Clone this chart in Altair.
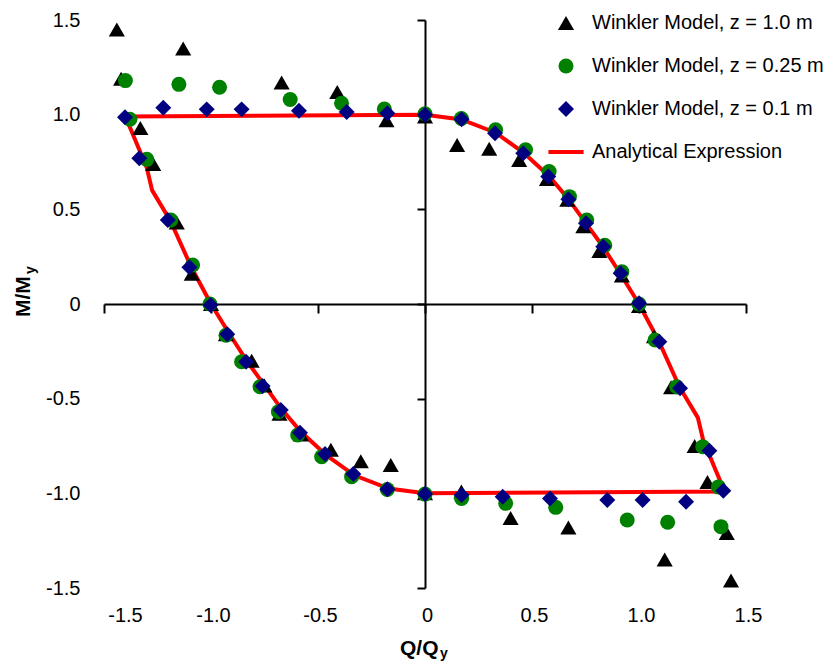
import altair as alt
import pandas as pd

FONT = "Liberation Sans"

series_names = [
    "Winkler Model, z = 1.0 m",
    "Winkler Model, z = 0.25 m",
    "Winkler Model, z = 0.1 m",
    "Analytical Expression",
]
series_colors = ["#000000", "#008000", "#000080", "#FF0000"]
series_shapes = ["triangle-up", "circle", "diamond",
                 "M-2.2,-0.25L2.2,-0.25L2.2,0.25L-2.2,0.25Z"]
series_sizes = [260, 225, 255, 256]

# Winkler model, z = 1.0 m (triangles)
q_z10 = [-1.44, -1.42, -1.33, -1.27, -1.16, -1.09, -1.00, -0.93, -0.81, -0.75,
         -0.68, -0.58, -0.44, -0.30, -0.16, 0.00, 0.17, 0.40, 0.67, 1.12,
         1.43, 1.41, 1.32, 1.26, 1.15, 1.07, 1.00, 0.92, 0.815, 0.74,
         0.665, 0.57, 0.44, 0.30, 0.15, 0.00, -0.18, -0.41, -0.67, -1.13]
m_z10 = [1.45, 1.19, 0.93, 0.74, 0.43, 0.16, 0.00, -0.16, -0.30, -0.43,
         -0.58, -0.69, -0.77, -0.83, -0.85, -1.00, -0.99, -1.13, -1.18, -1.35,
         -1.46, -1.21, -0.94, -0.75, -0.44, -0.17, -0.01, 0.15, 0.28, 0.41,
         0.55, 0.66, 0.76, 0.82, 0.84, 0.99, 0.97, 1.12, 1.17, 1.35]

# Winkler model, z = 0.25 m (circles)
q_z025 = [-1.40, -1.15, -0.96, -0.63, -0.39, -0.19, 0.00, 0.17, 0.33, 0.47,
          0.58, 0.675, 0.756, 0.84, 0.92, 1.00, 1.075, 1.176, 1.298, 1.371,
          1.383, 1.134, 0.945, 0.611, 0.377, 0.171, 0.00, -0.176, -0.343, -0.483,
          -0.595, -0.685, -0.771, -0.857, -0.93, -1.005, -1.086, -1.188, -1.30, -1.379]
m_z025 = [1.18, 1.16, 1.145, 1.08, 1.06, 1.03, 1.005, 0.98, 0.92, 0.815,
          0.70, 0.567, 0.444, 0.31, 0.17, 0.00, -0.19, -0.437, -0.754, -0.966,
          -1.176, -1.153, -1.141, -1.074, -1.053, -1.027, -1.004, -0.98, -0.912, -0.807,
          -0.692, -0.569, -0.437, -0.305, -0.165, 0.00, 0.206, 0.444, 0.764, 0.976]

# Winkler model, z = 0.1 m (diamonds)
q_z01 = [-1.402, -1.223, -1.02, -0.857, -0.589, -0.366, -0.176, 0.00, 0.171, 0.327,
         0.459, 0.576, 0.67, 0.752, 0.833, 0.914, 1.00, 1.095, 1.192, 1.329,
         1.394, 1.22, 1.017, 0.852, 0.584, 0.363, 0.171, 0.00, -0.176, -0.335,
         -0.467, -0.584, -0.674, -0.759, -0.836, -0.924, -1.002, -1.101, -1.202, -1.335]
m_z01 = [0.986, 1.037, 1.028, 1.028, 1.021, 1.014, 1.007, 1.00, 0.976, 0.902,
         0.796, 0.673, 0.553, 0.426, 0.303, 0.162, 0.004, -0.199, -0.445, -0.775,
         -0.986, -1.044, -1.035, -1.035, -1.027, -1.018, -1.009, -1.004, -0.979, -0.898,
         -0.792, -0.68, -0.56, -0.433, -0.305, -0.16, -0.005, 0.194, 0.444, 0.77]

# Analytical expression (closed polyline)
q_an = [-1.40, 0.00, 0.17, 0.33, 0.46, 0.58, 0.67, 0.75, 0.83, 0.91, 1.00,
        1.09, 1.19, 1.275, 1.30, 1.40, 0.00, -0.17, -0.33, -0.46, -0.58,
        -0.67, -0.75, -0.83, -0.91, -1.00, -1.09, -1.19, -1.275, -1.30, -1.40]
m_an = [0.99, 1.00, 0.975, 0.905, 0.80, 0.675, 0.555, 0.43, 0.305, 0.165, 0.00,
        -0.19, -0.44, -0.60, -0.72, -0.99, -1.00, -0.975, -0.905, -0.80, -0.675,
        -0.555, -0.43, -0.305, -0.165, 0.00, 0.19, 0.44, 0.60, 0.72, 0.99]

tick_values = [-1.5, -1.0, -0.5, 0.0, 0.5, 1.0, 1.5]
x_title, y_title, sub_text = "Q/Q", "M/M", "y"

pts = pd.concat([
    pd.DataFrame({"Q": q_z10, "M": m_z10, "series": series_names[0]}),
    pd.DataFrame({"Q": q_z025, "M": m_z025, "series": series_names[1]}),
    pd.DataFrame({"Q": q_z01, "M": m_z01, "series": series_names[2]}),
], ignore_index=True)
pts["k"] = range(len(pts))
line_df = pd.DataFrame({"Q": q_an, "M": m_an, "i": list(range(len(q_an)))})

W, H = 642, 568
label_expr = "datum.value == 0 ? '0' : (datum.value < 0 ? '-' : '') + format(abs(datum.value), '.1f')"

xscale = alt.Scale(domain=[-1.5, 1.5], nice=False, zero=False)
yscale = alt.Scale(domain=[-1.5, 1.5], nice=False, zero=False)

x_axis = alt.Axis(values=tick_values, orient="bottom", offset=-H / 2, grid=False, title=None,
                  domainColor="black", domainWidth=2, tickColor="black", tickWidth=2, tickSize=9,
                  labelPadding=292, labelFont=FONT, labelFontSize=20, labelColor="black",
                  labelExpr=label_expr, labelFlush=False, labelOverlap=False,
                  labelOffset={"condition": {"test": "datum.value < -1.4", "value": 21}, "value": 2})
y_axis = alt.Axis(values=tick_values, orient="left", offset=-W / 2, grid=False, title=None,
                  domainColor="black", domainWidth=2, tickColor="black", tickWidth=2, tickSize=8,
                  labelPadding=337, labelFont=FONT, labelFontSize=20, labelColor="black",
                  labelExpr=label_expr, labelFlush=False, labelOverlap=False)

line = alt.Chart(line_df).mark_line(color="#FF0000", strokeWidth=4).encode(
    x=alt.X("Q:Q", scale=xscale, axis=x_axis),
    y=alt.Y("M:Q", scale=yscale, axis=y_axis),
    order="i:Q",
)

leg = alt.Legend(orient="none", legendX=452, legendY=-7, title=None, labelFont=FONT,
                 labelFontSize=20, labelColor="black", labelOffset=16, rowPadding=23,
                 padding=0, labelLimit=0, symbolStrokeWidth=0)
sc = dict(domain=series_names)
points = alt.Chart(pts).mark_point(filled=True, opacity=1, strokeWidth=0).encode(
    x=alt.X("Q:Q", scale=xscale, axis=x_axis),
    y=alt.Y("M:Q", scale=yscale, axis=y_axis),
    color=alt.Color("series:N", scale=alt.Scale(range=series_colors, **sc), legend=leg),
    shape=alt.Shape("series:N", scale=alt.Scale(range=series_shapes, **sc), legend=leg),
    size=alt.Size("series:N", scale=alt.Scale(type="ordinal", range=series_sizes, **sc), legend=leg),
    order=alt.Order("k:Q"),
)

def txt(s, x, y, size, bold=True, angle=0):
    return alt.Chart(pd.DataFrame({"t": [s]})).mark_text(
        font=FONT, fontSize=size, fontWeight="bold" if bold else "normal",
        align="left", baseline="alphabetic", color="black", angle=angle,
    ).encode(text="t:N", x=alt.value(x), y=alt.value(y))

titles = [
    txt(x_title, 296, 635, 21),
    txt(sub_text, 336, 638, 14),
    txt(y_title, -74, 297, 21, angle=270),
    txt(sub_text, -69, 254, 14, angle=270),
]

chart = alt.layer(line, points, *titles).properties(
    width=W, height=H,
    autosize=alt.AutoSizeParams(type="none"),
    padding={"left": 104, "top": 20, "right": 87, "bottom": 75},
).configure_view(stroke=None)

chart.save("out.html", embed_options={"renderer": "svg", "actions": False})
